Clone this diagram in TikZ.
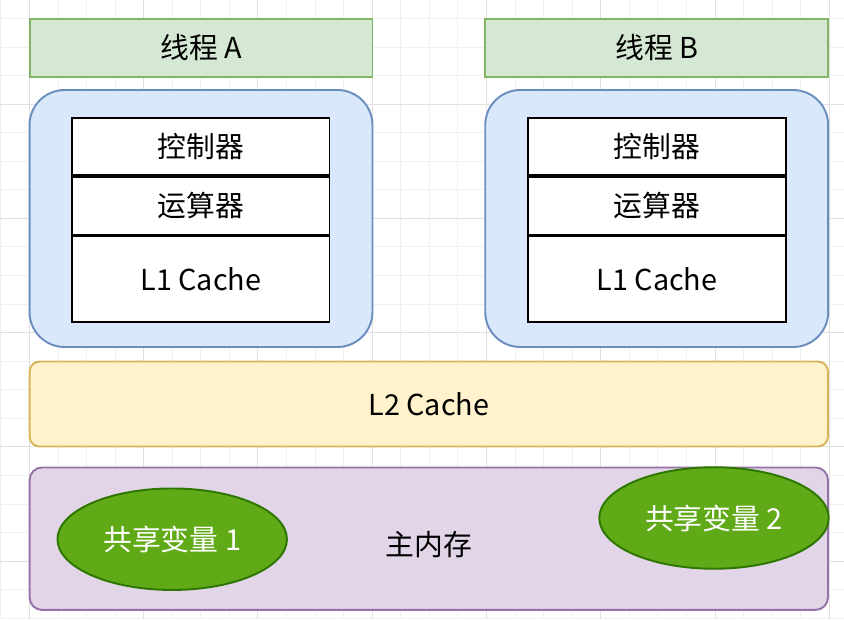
\documentclass[tikz,border=0pt]{standalone}
\usepackage{fontspec}
\setmainfont{Noto Sans CJK SC}
\usepackage{xcolor}
\usetikzlibrary{shapes.geometric, positioning}

\definecolor{threadfill}{HTML}{D5E8D4}
\definecolor{threadline}{HTML}{82B366}
\definecolor{corefill}{HTML}{DAE8FC}
\definecolor{coreline}{HTML}{6C8EBF}
\definecolor{ltwofill}{HTML}{FFF2CC}
\definecolor{ltwoline}{HTML}{D6B656}
\definecolor{memfill}{HTML}{E1D5E7}
\definecolor{memline}{HTML}{9673A6}
\definecolor{varfill}{HTML}{60A917}
\definecolor{varline}{HTML}{2D7600}

\begin{document}
\begin{tikzpicture}[
    x=0.02cm, y={(0,-0.02cm)},
    font=\fontsize{16.4}{19}\selectfont,
    thread/.style={rectangle, draw=threadline, fill=threadfill, line width=1.1pt, minimum width=6.86cm, minimum height=1.16cm},
    core/.style={rectangle, draw=coreline, fill=corefill, line width=1.1pt, rounded corners=0.7cm, minimum width=6.86cm, minimum height=5.14cm},
    cell/.style={rectangle, draw=black, fill=white, line width=1.1pt, minimum width=5.15cm, inner sep=0pt},
    cache/.style={rectangle, draw=ltwoline, fill=ltwofill, line width=1.1pt, rounded corners=0.2cm, minimum width=15.97cm, minimum height=1.7cm},
    mem/.style={rectangle, draw=memline, fill=memfill, line width=1.1pt, rounded corners=0.25cm, minimum width=15.97cm, minimum height=2.85cm},
    var/.style={ellipse, draw=varline, fill=varfill, line width=1.1pt, text=white, inner sep=0pt, minimum width=4.59cm, minimum height=2.03cm},
    node distance=0cm
]
    \useasboundingbox (0,0) rectangle (844,619);

    % Background grid
    \draw[black!6, line width=0.4pt, step=0.5714cm, shift={(29.3,104)}] (-29.3,-104) grid (814.7,515);
    \draw[black!12, line width=0.4pt, step=2.2857cm, shift={(29.3,104)}] (-29.3,-104) grid (814.7,515);

    % Threads
    \node[thread] (ta) at (201,47.8) {线程 A};
    \node[thread] (tb) at (656.7,47.8) {线程 B};

    % CPU cores
    \node[core] (ca) at (201,218.5) {};
    \node[core] (cb) at (656.7,218.5) {};

    % Core A parts
    \node[cell, minimum height=1.134cm] (ctla) at (200.8,146.7) {控制器};
    \node[cell, minimum height=1.15cm, below=of ctla] (alua) {运算器};
    \node[cell, minimum height=1.72cm, below=of alua] (lonea) {L1 Cache};

    % Core B parts
    \node[cell, minimum height=1.134cm] (ctlb) at (657,146.7) {控制器};
    \node[cell, minimum height=1.15cm, below=of ctlb] (alub) {运算器};
    \node[cell, minimum height=1.72cm, below=of alub] (loneb) {L1 Cache};

    % Shared cache
    \node[cache] (ltwo) at (428.8,404) {L2 Cache};

    % Main memory
    \node[mem] (mem) at (428.8,538.7) {};
    \node (memlabel) at (429,545) {主内存};
    \node[var] (varone) at (172.2,539.2) {共享变量 1};
    \node[var] (vartwo) at (714,518) {共享变量 2};
\end{tikzpicture}
\end{document}
